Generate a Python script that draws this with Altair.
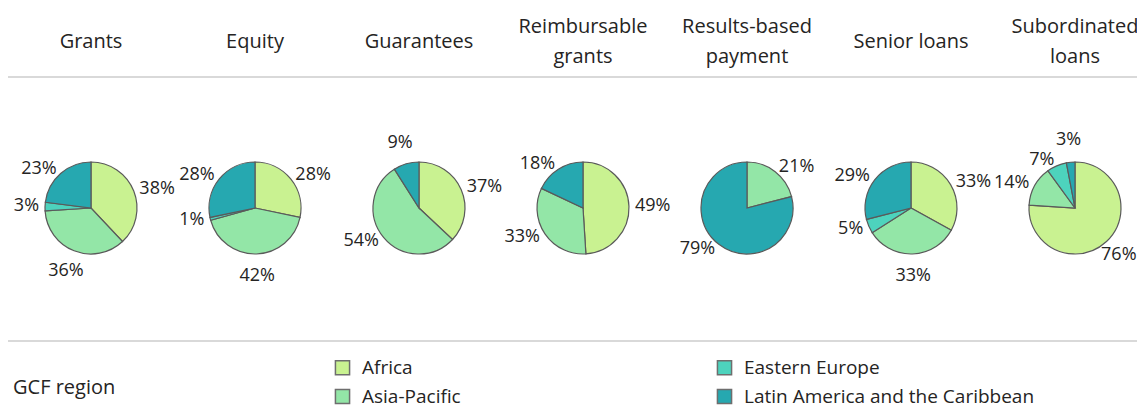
import altair as alt
import pandas as pd

types = ["Grants", "Equity", "Guarantees", "Reimbursable grants",
         "Results-based payment", "Senior loans", "Subordinated loans"]
header_text = ["Grants", "Equity", "Guarantees", "Reimbursable\ngrants",
               "Results-based\npayment", "Senior loans", "Subordinated\nloans"]
regions = ["Africa", "Asia-Pacific", "Eastern Europe", "Latin America and the Caribbean"]
colors = ["#c9f291", "#93e6a7", "#4dd3bd", "#26a8b0"]

africa = [38, 28, 37, 49, 0, 33, 76]
asia_pacific = [36, 42, 54, 33, 21, 33, 14]
eastern_europe = [3, 1, 0, 0, 0, 5, 7]
latin_america = [23, 28, 9, 18, 79, 29, 3]

series = [africa, asia_pacific, eastern_europe, latin_america]
rows = []
for ri, (reg, vals) in enumerate(zip(regions, series)):
    for t, v in zip(types, vals):
        if v > 0:
            rows.append({"type": t, "region": reg, "order": ri, "value": v})
df = pd.DataFrame(rows)
hdf = pd.DataFrame({"type": types, "header": header_text})
gdf = pd.DataFrame({"t": ["GCF region"]})

FONT = "Open Sans"
TXT = "#252423"
W = 1129
H = 399
PIE_Y = 200

xscale = alt.Scale(domain=types, range=[83, 1067], padding=0)
tscale = alt.Scale(domain=[0, 1])
legend_domain = [regions[0], regions[2], regions[1], regions[3]]
legend_range = [colors[0], colors[2], colors[1], colors[3]]

base = alt.Chart(df).transform_stack(
    stack="value", groupby=["type"], as_=["start", "end"],
    offset="normalize", sort=[alt.SortField("order", order="ascending")]
).transform_calculate(
    mid="(datum.start + datum.end) / 2",
    label="datum.value + '%'",
    s="sin((datum.start + datum.end) * PI)",
)

pies = base.mark_arc(radius=46, stroke="#5a5a5a", strokeWidth=1.2).encode(
    x=alt.X("type:N", scale=xscale, axis=None),
    y=alt.value(PIE_Y),
    theta=alt.Theta("start:Q", scale=tscale),
    theta2="end:Q",
    color=alt.Color(
        "region:N",
        scale=alt.Scale(domain=legend_domain, range=legend_range),
        legend=alt.Legend(
            title=None, orient="none", legendX=325, legendY=350,
            direction="horizontal", columns=2,
            labelFont=FONT, labelFontSize=19, labelColor=TXT, labelLimit=400,
            symbolType="square", symbolSize=200, symbolStrokeColor="#6e6e6e",
            symbolStrokeWidth=1.5, symbolOpacity=1, labelOffset=10,
            rowPadding=8, columnPadding=61, gridAlign="all",
        ),
    ),
)


def label_layer(cond, align, radius):
    return base.transform_filter(cond).mark_text(
        radius=radius, font=FONT, fontSize=18, color=TXT,
        align=align, baseline="middle"
    ).encode(
        x=alt.X("type:N", scale=xscale, axis=None),
        y=alt.value(PIE_Y),
        theta=alt.Theta("mid:Q", scale=tscale),
        text="label:N",
    )


lab_right = label_layer("datum.s > 0.38 && datum.mid < 0.3", "left", 52)
lab_lowright = label_layer("datum.s > 0.38 && datum.mid >= 0.3", "center", 64)
lab_left = label_layer("datum.s < -0.38", "right", 52)
lab_mid = label_layer("abs(datum.s) <= 0.38", "center", 68)

hbase = alt.Chart(hdf).mark_text(font=FONT, fontSize=20, color=TXT,
                                 lineBreak="\n", lineHeight=30,
                                 align="center", baseline="middle")
headers_one = hbase.transform_filter("indexof(datum.header, '\\n') < 0").encode(
    x=alt.X("type:N", scale=xscale, axis=None),
    y=alt.value(34),
    text="header:N",
)
headers_two = hbase.transform_filter("indexof(datum.header, '\\n') >= 0").encode(
    x=alt.X("type:N", scale=xscale, axis=None),
    y=alt.value(19),
    text="header:N",
)

gcf = alt.Chart(gdf).mark_text(font=FONT, fontSize=20, color=TXT,
                               align="left", baseline="middle").encode(
    x=alt.value(5), y=alt.value(380), text="t:N"
)

top_rule = alt.Chart(hdf).mark_rule(color="#d9d9d9", strokeWidth=2).encode(
    x=alt.value(0), x2=alt.value(W), y=alt.value(69)
)
bottom_rule = alt.Chart(hdf).mark_rule(color="#d9d9d9", strokeWidth=2).encode(
    x=alt.value(0), x2=alt.value(W), y=alt.value(333)
)

chart = alt.layer(top_rule, bottom_rule, headers_one, headers_two, gcf, pies,
                  lab_right, lab_lowright, lab_left, lab_mid).properties(
    width=W, height=H, padding=0,
    autosize=alt.AutoSizeParams(type="none"),
).configure_view(stroke=None)

chart.save("out.html", embed_options={"renderer": "svg", "actions": False})
